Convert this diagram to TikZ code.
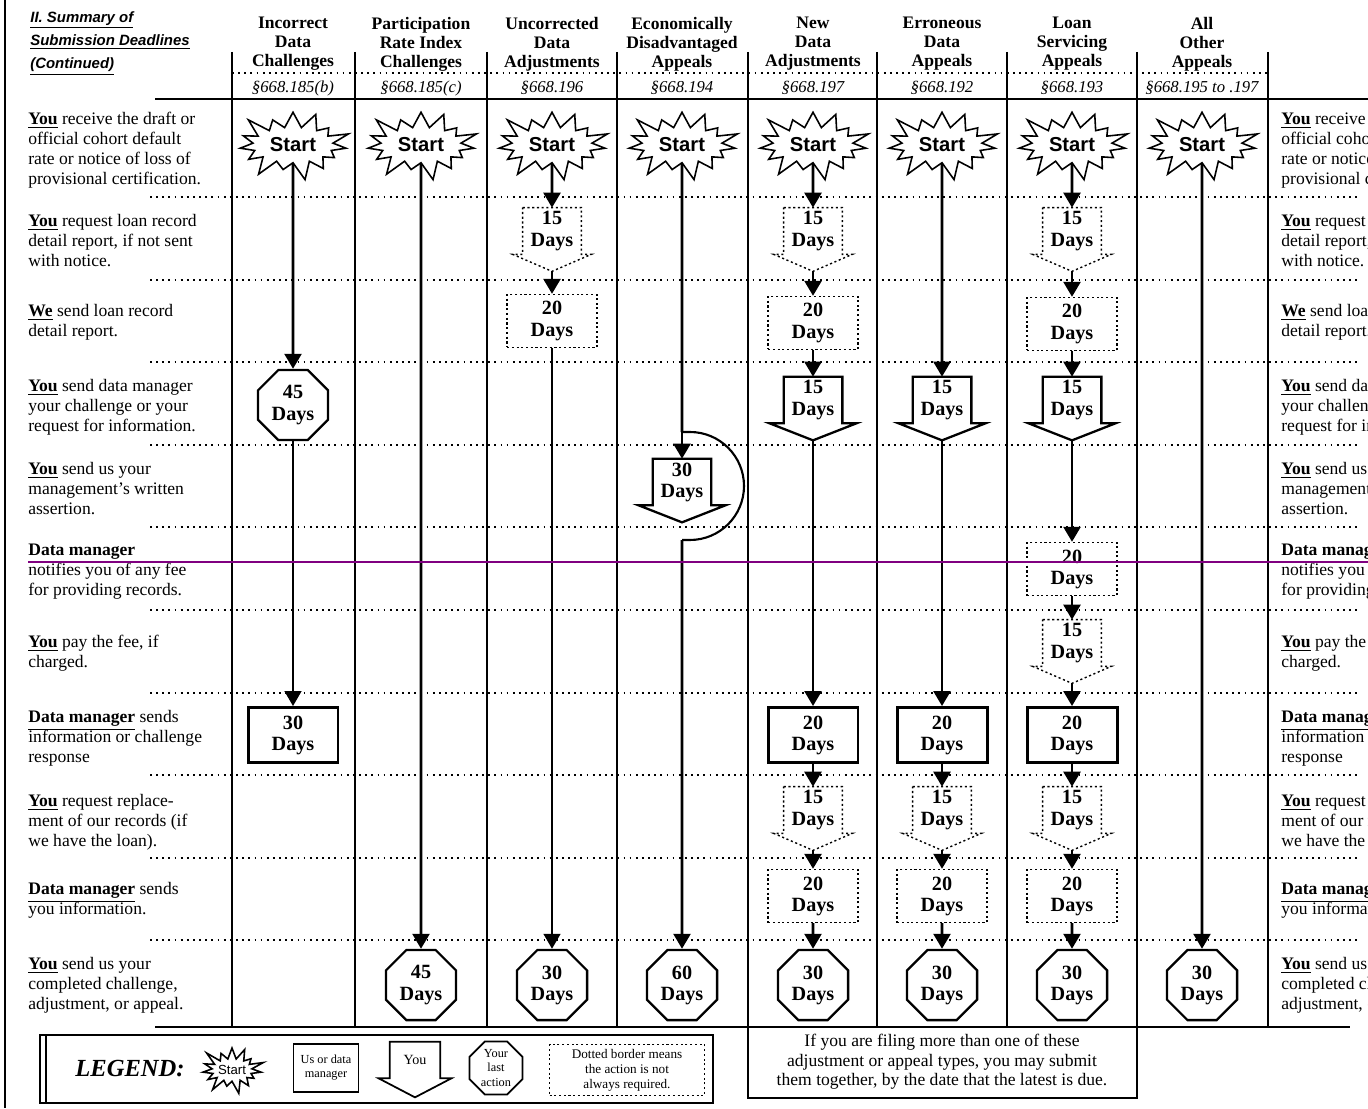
\documentclass[tikz,border=0pt]{standalone}
\usepackage{fontspec}
\setmainfont{Liberation Serif}
\setsansfont{Liberation Sans}
\usepackage{tikz}
\usetikzlibrary{arrows.meta,shapes.geometric,shapes.symbols,positioning}

\definecolor{markline}{RGB}{128,0,128}

\newcommand{\party}[1]{\underline{\textbf{#1}}}
% row texts, used in the left column and again in the cut-off right column
\newcommand{\rowa}{\party{You} receive the draft or\\official cohort default\\rate or notice of loss of\\provisional certification.}
\newcommand{\rowb}{\party{You} request loan record\\detail report, if not sent\\with notice.}
\newcommand{\rowc}{\party{We} send loan record\\detail report.}
\newcommand{\rowd}{\party{You} send data manager\\your challenge or your\\request for information.}
\newcommand{\rowe}{\party{You} send us your\\management's written\\assertion.}
\newcommand{\rowf}{\party{Data manager}\\notifies you of any fee\\for providing records.}
\newcommand{\rowg}{\party{You} pay the fee, if\\charged.}
\newcommand{\rowh}{\party{Data manager} sends\\information or challenge\\response}
\newcommand{\rowi}{\party{You} request replace-\\ment of our records (if\\we have the loan).}
\newcommand{\rowj}{\party{Data manager} sends\\you information.}
\newcommand{\rowk}{\party{You} send us your\\completed challenge,\\adjustment, or appeal.}

\begin{document}
\begin{tikzpicture}[x=0.02cm,y=-0.02cm,>={Triangle[width=0.34cm,length=0.3cm]},
    lbl/.style={anchor=north west,align=left,inner sep=0pt,font=\fontsize{10}{11.4}\selectfont},
    head/.style={align=center,inner sep=0pt,font=\bfseries\fontsize{10}{10.8}\selectfont},
    sect/.style={inner sep=0pt,font=\itshape\fontsize{9.5}{10}\selectfont},
    start/.style={starburst,draw,fill=white,line width=0.9pt,starburst points=15,
      starburst point height=0.42cm,minimum width=2.45cm,minimum height=1.55cm,inner sep=0pt,
      font=\sffamily\bfseries\fontsize{11.5}{11.5}\selectfont},
    days/.style={align=center,inner sep=0pt,font=\bfseries\fontsize{11.5}{12}\selectfont},
    last/.style={days,regular polygon,regular polygon sides=8,draw,line width=1.3pt,minimum size=1.52cm},
    usbox/.style={days,rectangle,draw,line width=1.7pt,minimum width=1.8cm,minimum height=1.1cm},
    maybe/.style={days,rectangle,draw,line width=0.8pt,dash pattern=on 1.2pt off 1.5pt,
      minimum width=1.8cm,minimum height=1.06cm},
    you/.style={days,rectangle,minimum width=1.16cm,minimum height=0.92cm},
    link/.style={->,line width=1.5pt},
    slim/.style={->,line width=0.9pt},
    fromyou/.style={shorten <=0.34cm},
    sep/.style={line width=0.8pt,dash pattern=on 1pt off 2.5pt}]

  \useasboundingbox (0,0) rectangle (1368,1108);

  % frame and grid
  \draw[line width=1.5pt] (5,0) -- (5,1108);
  \foreach \y in {197,280,362,445,527,610,693,775,858,940}
    \draw[sep] (150,\y) -- (1360,\y);
  \draw[sep] (232,73) -- (1268,73);
  \foreach \x in {232,355,487,617,748,877,1007,1137,1268}
    \draw[line width=1.2pt] (\x,52) -- (\x,1027);
  \draw[line width=1.6pt] (155,99) -- (1368,99);
  \draw[line width=1.6pt] (155,1027) -- (1350,1027);

  % heading
  \node[anchor=north west,align=left,inner sep=0pt,
    font=\sffamily\bfseries\itshape\fontsize{8.5}{13.2}\selectfont] (ttl) at (30,11)
    {\underline{II. Summary of}\\\underline{Submission Deadlines}\\\underline{(Continued)}};
  \foreach \x/\t/\s in {293/Incorrect\\Data\\Challenges/§668.185(b),
      421/Participation\\Rate Index\\Challenges/§668.185(c),
      552/Uncorrected\\Data\\Adjustments/§668.196,
      682/Economically\\Disadvantaged\\Appeals/§668.194,
      813/New\\Data\\Adjustments/§668.197,
      942/Erroneous\\Data\\Appeals/§668.192,
      1072/Loan\\Servicing\\Appeals/§668.193,
      1202/All\\Other\\Appeals/§668.195 to .197} {
    \node[head] (h\x) at (\x,44) {\t};
    \node[sect] (c\x) at (\x,88) {\s};
  }

  % row labels
  \foreach \y/\txt [count=\i] in {112/\rowa,214/\rowb,304/\rowc,379/\rowd,462/\rowe,
      544/\rowf,635/\rowg,710/\rowh,794/\rowi,882/\rowj,957/\rowk} {
    \node[lbl] (l\i) at (28,\y) {\txt};
    \node[lbl] (r\i) at (1281,\y) {\txt};
  }

  % starts
  \foreach \x [count=\i] in {293,421,552,682,813,942,1072,1202}
    \node[start] (s\i) at (\x,145) {Start};

  % column 1
  \node[last] (o1) at (293,405) {45\\Days};
  \node[usbox] (b1) at (293,735) {30\\Days};
  % column 2
  \node[last] (o2) at (421,985) {45\\Days};
  % column 3
  \node[you] (y3) at (552,231) {15\\Days};
  \node[maybe] (d3) at (552,321) {20\\Days};
  \node[last] (o3) at (552,985) {30\\Days};
  % column 4
  \coordinate (c4a) at (682,432);
  \coordinate (c4b) at (682,540);
  \node[you] (y4) at (682,482) {30\\Days};
  \node[last] (o4) at (682,985) {60\\Days};
  % column 5
  \node[you] (y5a) at (813,231) {15\\Days};
  \node[maybe] (d5a) at (813,323) {20\\Days};
  \node[you] (y5b) at (813,400) {15\\Days};
  \node[usbox] (b5) at (813,735) {20\\Days};
  \node[you] (y5c) at (813,810) {15\\Days};
  \node[maybe] (d5b) at (813,896) {20\\Days};
  \node[last] (o5) at (813,985) {30\\Days};
  % column 6
  \node[you] (y6a) at (942,400) {15\\Days};
  \node[usbox] (b6) at (942,735) {20\\Days};
  \node[you] (y6b) at (942,810) {15\\Days};
  \node[maybe] (d6) at (942,896) {20\\Days};
  \node[last] (o6) at (942,985) {30\\Days};
  % column 7
  \node[you] (y7a) at (1072,231) {15\\Days};
  \node[maybe] (d7a) at (1072,324) {20\\Days};
  \node[you] (y7b) at (1072,400) {15\\Days};
  \node[maybe] (d7b) at (1072,569) {20\\Days};
  \node[you] (y7c) at (1072,643) {15\\Days};
  \node[usbox] (b7) at (1072,735) {20\\Days};
  \node[you] (y7d) at (1072,810) {15\\Days};
  \node[maybe] (d7c) at (1072,896) {20\\Days};
  \node[last] (o7) at (1072,985) {30\\Days};
  % column 8
  \node[last] (o8) at (1202,985) {30\\Days};

  % arrow outlines of the "you" boxes
  \foreach \n in {y4,y5b,y6a,y7b}
    \draw[line width=1.3pt] (\n.north west) -- (\n.north east) -- (\n.south east)
      -- ([xshift=0.28cm]\n.south east) -- ([yshift=-0.34cm]\n.south)
      -- ([xshift=-0.28cm]\n.south west) -- (\n.south west) -- cycle;
  \foreach \n in {y3,y5a,y5c,y6b,y7a,y7c,y7d}
    \draw[line width=0.8pt,dash pattern=on 1.2pt off 1.5pt] (\n.north west) -- (\n.north east)
      -- (\n.south east) -- ([xshift=0.2cm]\n.south east) -- ([yshift=-0.34cm]\n.south)
      -- ([xshift=-0.2cm]\n.south west) -- (\n.south west) -- cycle;

  % connectors
  \draw[link] (s1) -- (o1);
  \draw[slim] (o1) -- (b1);
  \draw[link] (s2) -- (o2);
  \draw[link] (s3) -- (y3);
  \draw[link,fromyou] (y3) -- (d3);
  \draw[slim] (d3) -- (o3);
  \draw[line width=1.5pt] (s4) -- (c4a);
  \draw[link] (c4a) -- (y4);
  \draw[line width=1.2pt] (c4a) -- ++(8,0) arc[start angle=90,end angle=-90,radius=1.08cm] -- (c4b);
  \draw[link] (c4b) -- (o4);
  \draw[link] (s5) -- (y5a);
  \draw[link,fromyou] (y5a) -- (d5a);
  \draw[link] (d5a) -- (y5b);
  \draw[link,fromyou] (y5b) -- (b5);
  \draw[link] (b5) -- (y5c);
  \draw[link,fromyou] (y5c) -- (d5b);
  \draw[link] (d5b) -- (o5);
  \draw[link] (s6) -- (y6a);
  \draw[link,fromyou] (y6a) -- (b6);
  \draw[link] (b6) -- (y6b);
  \draw[link,fromyou] (y6b) -- (d6);
  \draw[link] (d6) -- (o6);
  \draw[link] (s7) -- (y7a);
  \draw[link,fromyou] (y7a) -- (d7a);
  \draw[link] (d7a) -- (y7b);
  \draw[link,fromyou] (y7b) -- (d7b);
  \draw[link] (d7b) -- (y7c);
  \draw[link,fromyou] (y7c) -- (b7);
  \draw[link] (b7) -- (y7d);
  \draw[link,fromyou] (y7d) -- (d7c);
  \draw[link] (d7c) -- (o7);
  \draw[link] (s8) -- (o8);

  \draw[markline,line width=1.1pt] (28,562) -- (1368,562);

  % note under the appeals
  \draw[line width=1pt] (748,1027) rectangle (1137,1098);
  \node[align=center,inner sep=0pt,font=\fontsize{10}{11.2}\selectfont] (note) at (942,1062)
    {If you are filing more than one of these\\adjustment or appeal types, you may submit\\them together, by the date that the latest is due.};

  % legend
  \draw[line width=1pt] (40,1035) rectangle (713,1103);
  \draw[line width=0.8pt] (46,1035) -- (46,1103);
  \node[font=\bfseries\itshape\fontsize{14}{14}\selectfont,inner sep=0pt] (lg) at (130,1069) {LEGEND:};
  \node[start,minimum width=1.4cm,minimum height=1.05cm,starburst point height=0.3cm,
    font=\sffamily\fontsize{7.5}{7.5}\selectfont] (ls) at (232,1070) {Start};
  \node[draw,line width=1pt,minimum width=1.3cm,minimum height=0.95cm,align=center,inner sep=0pt,
    font=\fontsize{7}{8}\selectfont] (lu) at (326,1068) {Us or data\\manager};
  \node[you,minimum width=1cm,minimum height=0.72cm,font=\fontsize{8}{9}\selectfont] (ly) at (415,1060) {You};
  \draw[line width=1pt] (ly.north west) -- (ly.north east) -- (ly.south east)
    -- ([xshift=0.22cm]ly.south east) -- ([yshift=-0.38cm]ly.south)
    -- ([xshift=-0.22cm]ly.south west) -- (ly.south west) -- cycle;
  \node[last,line width=1pt,minimum size=1.15cm,font=\fontsize{7}{8}\selectfont] (lo) at (496,1068) {Your\\last\\action};
  \node[maybe,minimum width=3.1cm,minimum height=1.02cm,font=\fontsize{7.5}{8.5}\selectfont] (ld) at (627,1070)
    {Dotted border means\\the action is not\\always required.};
\end{tikzpicture}
\end{document}
